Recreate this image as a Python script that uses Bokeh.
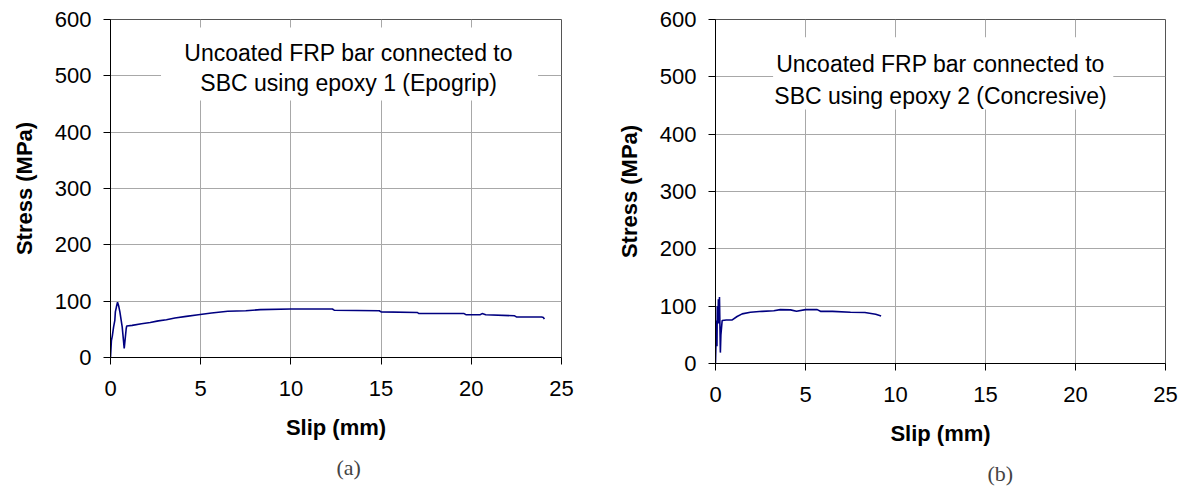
from bokeh.plotting import figure
from bokeh.layouts import row
from bokeh.models import Range1d, Title
from bokeh.core.properties import value
from bokeh.embed import file_html
from bokeh.resources import INLINE

# Pull-out test: slip (mm) vs bar stress (MPa)
slip_a = [0, 0.05, 0.1, 0.17, 0.24, 0.27, 0.33, 0.39, 0.45, 0.52, 0.65, 0.76,
          0.87, 0.9, 1.2, 1.72, 2.2, 2.65, 3.1, 3.57, 4.2, 4.87, 5.6, 6.5,
          7.5, 8.3, 10.0, 12.3, 12.4, 14.9, 15.0, 17.0, 17.1, 19.6, 19.7,
          20.5, 20.6, 20.8, 22.4, 22.5, 23.9, 24.0, 24.05]
stress_a = [0, 30, 38, 54, 66, 81, 90, 98, 92, 81, 54, 16,
            51, 56, 57, 60, 62, 65, 67, 70, 73, 76, 79, 82,
            83, 85, 86, 86, 84, 83, 81, 80, 78, 78, 76,
            76, 78, 76, 74, 72, 72, 71, 68]

slip_b = [0, 0.03, 0.06, 0.08, 0.1, 0.14, 0.16, 0.18, 0.22, 0.25, 0.27, 0.3,
          0.37, 0.6, 0.93, 1.2, 1.48, 1.94, 2.6, 3.24, 3.6, 4.17, 4.5, 5.0,
          5.65, 5.83, 6.5, 7.5, 8.3, 8.9, 9.2]
stress_b = [0, 40, 75, 30, 100, 80, 112, 70, 116, 60, 19, 50,
            75, 76, 76, 82, 86.5, 89.5, 91, 92, 94, 93.5, 91, 94,
            94, 91, 91, 89.5, 89, 86, 83]

x_ticks = [0, 5, 10, 15, 20, 25]
y_ticks = [0, 100, 200, 300, 400, 500, 600]
note_a = ["Uncoated FRP bar connected to", "SBC using epoxy 1 (Epogrip)"]
note_b = ["Uncoated FRP bar connected to", "SBC using epoxy 2 (Concresive)"]
captions = ["(a)", "(b)"]

SANS = "Liberation Sans"
SERIF = "Liberation Serif"


def panel(slip, stress, note, note_x, note_ys, box, caption, cap_offset,
          left, top, fw, fh):
    p = figure(x_range=Range1d(0, 25), y_range=Range1d(0, 600),
               frame_width=fw, frame_height=fh,
               min_border_left=left, min_border_right=594 - left - fw,
               min_border_top=top, min_border_bottom=497 - top - fh,
               output_backend="svg", toolbar_location=None)
    p.background_fill_color = "white"
    p.border_fill_color = "white"
    p.outline_line_color = "#555555"

    p.xaxis.ticker = x_ticks
    p.yaxis.ticker = y_ticks
    for ax in (p.xaxis, p.yaxis):
        ax.axis_line_color = "black"
        ax.major_tick_line_color = "black"
        ax.major_tick_in = 0
        ax.major_tick_out = 7
        ax.minor_tick_line_color = None
        ax.major_label_text_font = SANS
        ax.major_label_text_font_size = "22px"
        ax.major_label_text_color = "black"
        ax.axis_label_text_font = SANS
        ax.axis_label_text_font_size = "22px"
        ax.axis_label_text_font_style = "bold"
        ax.axis_label_text_color = "black"
    p.xaxis.axis_label = "Slip (mm)"
    p.yaxis.axis_label = "Stress (MPa)"
    p.xaxis.major_label_standoff = 16
    p.xaxis.axis_label_standoff = 16
    p.yaxis.major_label_standoff = 12
    p.yaxis.axis_label_standoff = 15

    p.grid.grid_line_color = "#a8a8a8"
    p.grid.grid_line_width = 1

    # white annotation panel hiding the grid behind the note
    p.quad(left=[box[0]], right=[box[1]], bottom=[box[2]], top=[box[3]],
           fill_color="white", line_color=None)
    p.text(x=[note_x] * len(note), y=note_ys, text=note,
           text_font=value(SANS), text_font_size="23px",
           text_align="center", text_baseline="middle", text_color="black")

    p.line(slip, stress, line_color="#000080", line_width=1.6)

    p.add_layout(Title(text=caption, align="left", offset=cap_offset,
                       text_font=SERIF, text_font_size="22px",
                       text_font_style="normal", standoff=20), "below")
    return p


pa = panel(slip_a, stress_a, note_a, 13.2, [540, 488],
           (2.8, 23.7, 456, 586), captions[0], 226,
           left=110, top=19, fw=451, fh=338)
pb = panel(slip_b, stress_b, note_b, 12.5, [522, 466],
           (3.2, 22.1, 443, 569), captions[1], 272,
           left=121, top=18, fw=450, fh=344)

layout = row(pa, pb)
open("out.html", "w").write(file_html(layout, INLINE))
